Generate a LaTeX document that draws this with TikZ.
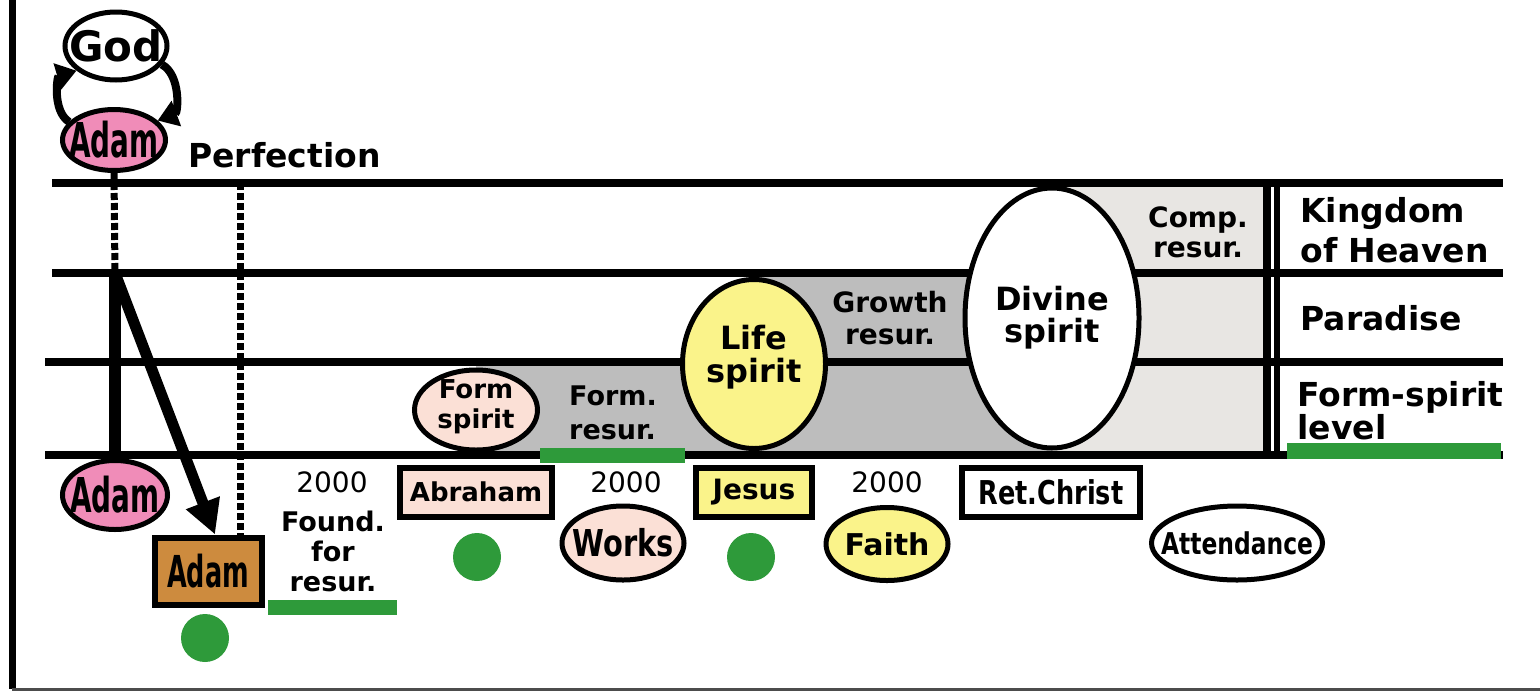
\documentclass[tikz,border=0pt]{standalone}
\usepackage{fontspec}
\setmainfont{DejaVu Sans}
\newfontfamily\adamfont[FakeStretch=0.58]{DejaVu Sans}
\newfontfamily\narrowfont[FakeStretch=0.78]{DejaVu Sans}
\usetikzlibrary{positioning,arrows.meta,shapes.geometric}
\newcommand\sizeat[2]{\fontsize{#1}{#2}\selectfont}
\definecolor{adampink}{HTML}{F08CB8}
\definecolor{formpink}{HTML}{FBE0D6}
\definecolor{lifeyellow}{HTML}{FAF38A}
\definecolor{adambrown}{HTML}{CD8B3E}
\definecolor{resurgray}{HTML}{BDBDBD}
\definecolor{compgray}{HTML}{E8E6E3}
\definecolor{markgreen}{HTML}{2E9A3A}
\begin{document}
\begin{tikzpicture}[x=0.5pt,y=-0.5pt,
		spiritoval/.style={draw,ellipse,line width=2.5pt,inner sep=0pt},
		ovaltext/.style={align=center,inner sep=0pt},
		namebox/.style={draw,rectangle,line width=3pt,inner sep=0pt},
		levelrule/.style={line width=4pt},
		dotrule/.style={line width=3.5pt,dash pattern=on 3.5pt off 1.5pt},
		bigarrow/.style={line width=5.5pt,-{Triangle[length=17pt,width=17pt]}},
		cyclearrow/.style={line width=4pt,-{Triangle[length=10pt,width=13pt]}},
		yearlabel/.style={font=\sizeat{14}{14},inner sep=0pt},
		resurlabel/.style={font=\bfseries\sizeat{13.5}{15},align=center,inner sep=0pt},
		levellabel/.style={font=\bfseries\sizeat{16.5}{20},align=left,anchor=west,inner sep=0pt}
		]
		
		\useasboundingbox (0,0) rectangle (1540,691);
		
		% frame
		\draw[line width=3.5pt] (12,0) -- (12,689);
		\draw[line width=1.5pt,black!70] (12,689) -- (1540,689);
		
		% shaded resurrection areas
		\fill[resurgray] (476,362) rectangle (1052,455);
		\fill[resurgray] (754,273) rectangle (1052,362);
		\fill[compgray] (1052,183) rectangle (1266,455);
		
		% levels
		\foreach \y/\x in {183/52,273/52,362/45,455/45}
		\draw[levelrule] (\x,\y) -- (1503,\y);
		\draw[line width=4pt] (1267,183) -- (1267,455);
		\draw[line width=3pt] (1277,183) -- (1277,455);
		
		% God and Adam
		\node (god) [spiritoval,fill=white,minimum width=51pt,minimum height=34pt,
			label={[ovaltext,font=\bfseries\sizeat{21}{21}]center:God}] at (116,46) {};
		\node (adamtop) [spiritoval,fill=adampink,minimum width=51.5pt,minimum height=30.5pt,
			label={[ovaltext,font=\adamfont\bfseries\sizeat{24}{24}]center:Adam}] at (114,140) {};
		\draw[cyclearrow] (adamtop.158) to[bend left=65] (god.212);
		\draw[cyclearrow] (god.-22) to[bend left=65] (adamtop.24);
		\node (perfection) [anchor=west,inner sep=0pt,font=\bfseries\sizeat{16.5}{16.5}] at (188,155) {Perfection};
		
		% spirits
		\node (formsp) [spiritoval,fill=formpink,minimum width=61.5pt,minimum height=40pt,
			label={[ovaltext,yshift=1.5pt,font=\bfseries\sizeat{13}{15}]center:Form\\spirit}] at (476,410) {};
		\node (life) [spiritoval,fill=lifeyellow,minimum width=71.5pt,minimum height=84.5pt,
			label={[ovaltext,yshift=3.5pt,font=\bfseries\sizeat{16}{16.5}]center:Life\\spirit}] at (754,364) {};
		\node (divine) [spiritoval,fill=white,minimum width=87pt,minimum height=130pt,
			label={[ovaltext,font=\bfseries\sizeat{16}{16}]center:Divine\\spirit}] at (1052,318) {};
		
		\node (formresur) [resurlabel,align=left,font=\bfseries\sizeat{13.5}{17}] at (613,413) {Form.\\resur.};
		\node (growth) [resurlabel,font=\bfseries\sizeat{14}{16}] at (890,318) {Growth\\resur.};
		\node (comp) [resurlabel,font=\bfseries\sizeat{14}{15}] at (1198,232) {Comp.\\resur.};
		
		% level names
		\node (kingdom) [levellabel] at (1300,230) {Kingdom\\of Heaven};
		\node (paradise) [levellabel] at (1300,318) {Paradise};
		\node (formlevel) [levellabel,font=\bfseries\sizeat{16.5}{16.5}] at (1297,411) {Form-spirit\\level};
		
		% persons
		\node (adambot) [spiritoval,fill=adampink,minimum width=52.5pt,minimum height=34.5pt,
			label={[ovaltext,font=\adamfont\bfseries\sizeat{24}{24}]center:Adam}] at (115,495) {};
		\node (adambox) [namebox,fill=adambrown,minimum width=53.5pt,minimum height=33.5pt,
			font=\adamfont\bfseries\sizeat{22}{22}] at (208,571) {Adam};
		\node (abraham) [namebox,fill=formpink,minimum width=76pt,minimum height=24.5pt,
			font=\bfseries\sizeat{13}{13}] at (476,492) {Abraham};
		\node (jesus) [namebox,fill=lifeyellow,minimum width=58pt,minimum height=24.5pt,
			font=\bfseries\sizeat{14}{14}] at (754,492) {Jesus};
		\node (retchrist) [namebox,fill=white,minimum width=89pt,minimum height=24.5pt,
			font=\narrowfont\bfseries\sizeat{16.4}{16.4}] at (1051,492) {Ret.Christ};
		
		\node (works) [spiritoval,fill=formpink,minimum width=61pt,minimum height=37pt,
			label={[ovaltext,font=\narrowfont\bfseries\sizeat{18.5}{18.5}]center:Works}] at (623,543) {};
		\node (faith) [spiritoval,fill=lifeyellow,minimum width=61pt,minimum height=36.5pt,
			label={[ovaltext,font=\bfseries\sizeat{15}{15}]center:Faith}] at (887,544) {};
		\node (attend) [spiritoval,fill=white,minimum width=85.5pt,minimum height=37pt,
			label={[ovaltext,font=\narrowfont\bfseries\sizeat{15}{15}]center:Attendance}] at (1237,543) {};
		
		% years
		\node (yearsA) [yearlabel] at (332,482) {2000};
		\node (yearsB) [yearlabel] at (626,482) {2000};
		\node (yearsC) [yearlabel] at (887,482) {2000};
		\node (found) [resurlabel] at (333,551) {Found.\\for\\resur.};
		
		% Adam's fall
		\coordinate (fork) at (115,273);
		\coordinate (perfmark) at (240,183);
		\draw[dotrule] (adamtop.south) -- (fork);
		\draw[dotrule] (perfmark) -- (perfmark |- adambox.north);
		\draw[line width=6pt] (fork) -- (adambot.north);
		\draw[bigarrow] (fork) -- ([xshift=3.5pt]adambox.north);
		
		% green marks
		\fill[markgreen] (205,638) circle (12pt);
		\fill[markgreen] (477,557) circle (12pt);
		\fill[markgreen] (751,557) circle (12pt);
		\fill[markgreen] (268,600) rectangle (397,615);
		\fill[markgreen] (540,448) rectangle (685,463);
		\fill[markgreen] (1287,443) rectangle (1501,459);
		
	\end{tikzpicture}
\end{document}
